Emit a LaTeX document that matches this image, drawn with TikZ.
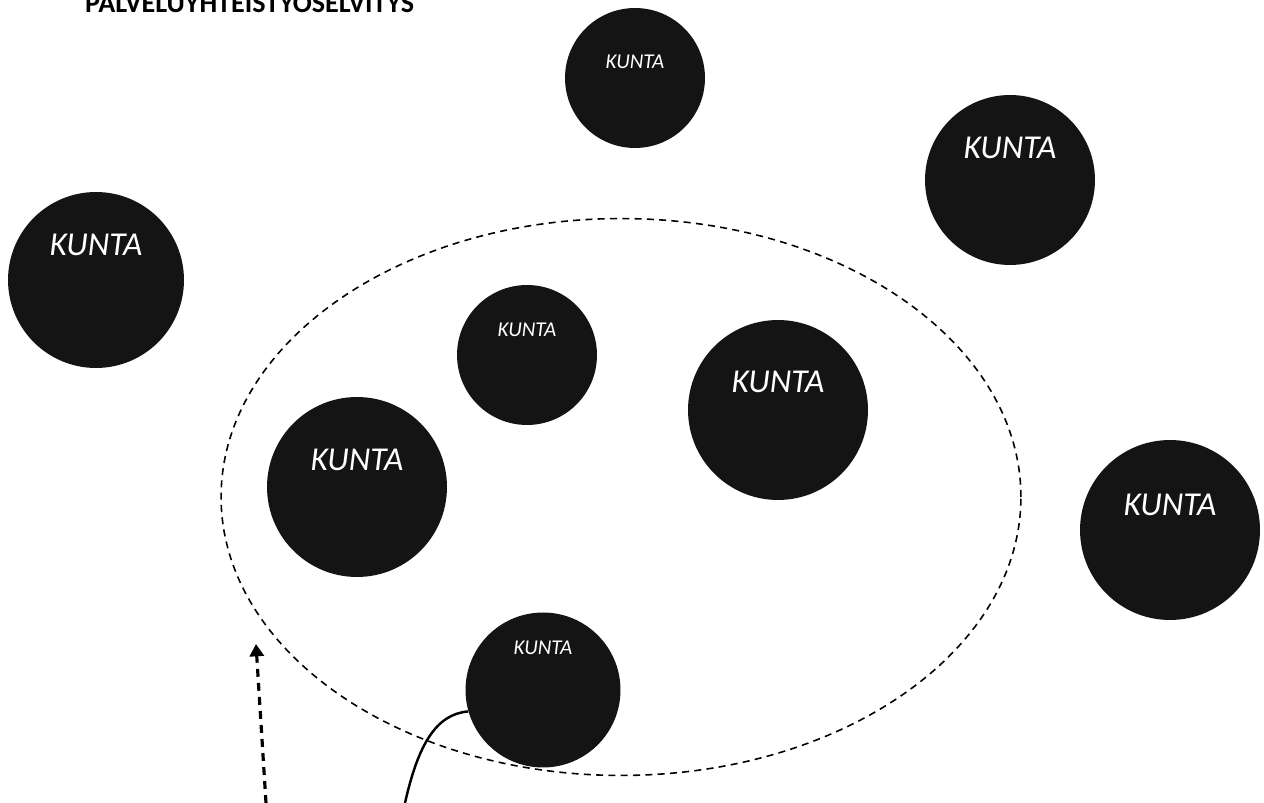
\documentclass[tikz,border=0pt]{standalone}
\usepackage{fontspec}
\setmainfont{Carlito}
\usetikzlibrary{shapes.geometric}
\usetikzlibrary{arrows.meta}
\tikzset{kunta/.style={circle,draw=none,fill=black!92,inner sep=0pt},
 kuntatext/.style={text=white,font=\itshape},
 alue/.style={ellipse,draw,dash pattern=on 4pt off 3pt,line width=0.9pt,inner sep=0pt},
 }
\begin{document}
\begin{tikzpicture}[x=0.02cm,y=-0.02cm]
        \useasboundingbox (0,0) rectangle (1264,803);
        \node[anchor=base west,font=\bfseries\fontsize{16}{16}\selectfont] (otsikko) at (79,13) {PALVELUYHTEISTYÖSELVITYS};
        % yhteistyoalue
        \node[alue,minimum width=16cm,minimum height=11.14cm] (alue) at (621,497) {};
        % kunnat
        \node[kunta,minimum size=2.8cm] (k1) at (635,78) {};
        \node[kunta,minimum size=3.4cm] (k2) at (1010,180) {};
        \node[kunta,minimum size=3.52cm] (k3) at (96,280) {};
        \node[kunta,minimum size=2.8cm] (k4) at (527,355) {};
        \node[kunta,minimum size=3.6cm] (k5) at (778,410) {};
        \node[kunta,minimum size=3.6cm] (k6) at (357,487) {};
        \node[kunta,minimum size=3.6cm] (k7) at (1170,530) {};
        \node[kunta,minimum size=3.1cm] (k8) at (543,690) {};
        \node[kuntatext,font=\itshape\fontsize{12}{12}\selectfont] at ([yshift=0.32cm]k1.center) {KUNTA};
        \node[kuntatext,font=\itshape\fontsize{19}{19}\selectfont] at ([yshift=0.64cm]k2.center) {KUNTA};
        \node[kuntatext,font=\itshape\fontsize{19}{19}\selectfont] at ([yshift=0.70cm]k3.center) {KUNTA};
        \node[kuntatext,font=\itshape\fontsize{12}{12}\selectfont] at ([yshift=0.50cm]k4.center) {KUNTA};
        \node[kuntatext,font=\itshape\fontsize{19}{19}\selectfont] at ([yshift=0.56cm]k5.center) {KUNTA};
        \node[kuntatext,font=\itshape\fontsize{19}{19}\selectfont] at ([yshift=0.54cm]k6.center) {KUNTA};
        \node[kuntatext,font=\itshape\fontsize{19}{19}\selectfont] at ([yshift=0.50cm]k7.center) {KUNTA};
        \node[kuntatext,font=\itshape\fontsize{12}{12}\selectfont] at ([yshift=0.84cm]k8.center) {KUNTA};
        % viivat alareunasta
        \coordinate (nuolialku) at (266,803);
        \coordinate (nuolikarki) at (256,644);
        \coordinate (kaarialku) at (405,803);
        \draw[line width=1.8pt,dash pattern=on 4.5pt off 3.5pt,-{Triangle[length=7pt,width=8pt]}] (nuolialku) -- (nuolikarki);
        \draw[line width=1.4pt] (kaarialku) .. controls (418,745) and (436,714) .. (k8.196);
    \end{tikzpicture}
\end{document}
